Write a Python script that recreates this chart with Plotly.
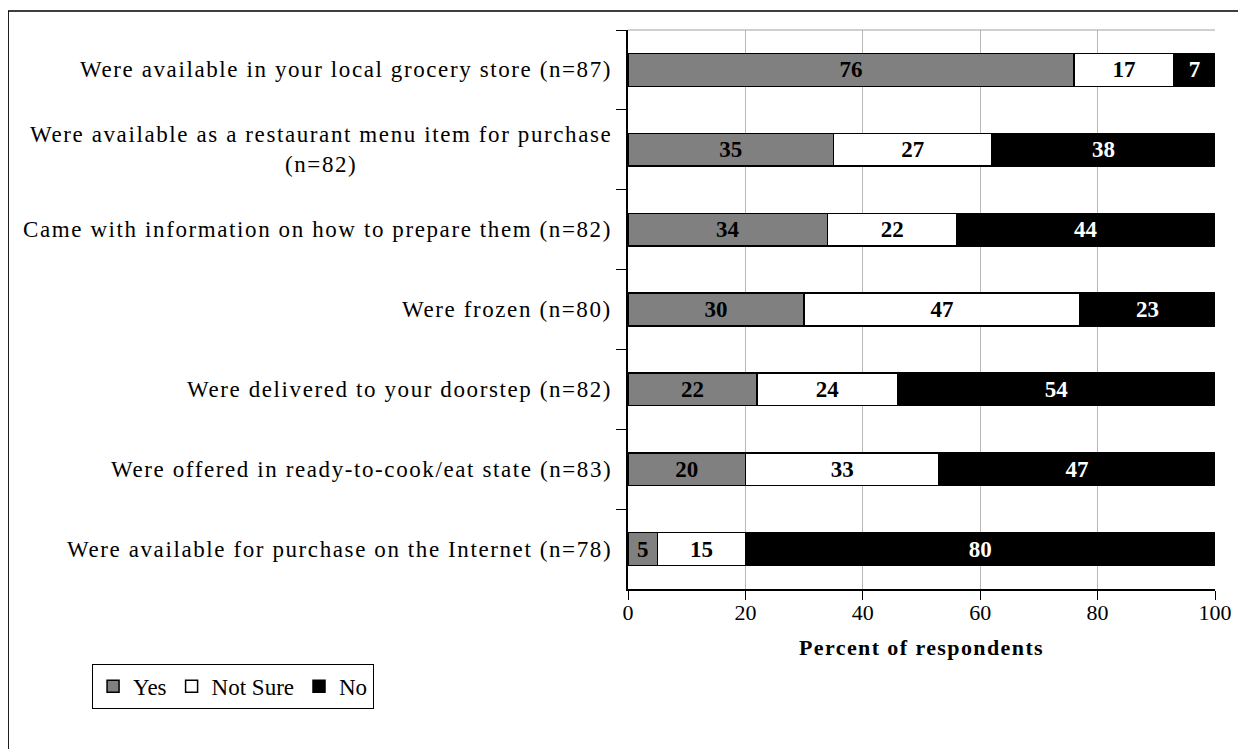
import plotly.graph_objects as go

categories = [
    "Were available in your local grocery store (n=87)",
    "Were available as a restaurant menu item for purchase<br>(n=82)",
    "Came with information on how to prepare them (n=82)",
    "Were frozen (n=80)",
    "Were delivered to your doorstep (n=82)",
    "Were offered in ready-to-cook/eat state (n=83)",
    "Were available for purchase on the Internet (n=78)",
]
yes = [76, 35, 34, 30, 22, 20, 5]
not_sure = [17, 27, 22, 47, 24, 33, 15]
no = [7, 38, 44, 23, 54, 47, 80]
x_ticks = [0, 20, 40, 60, 80, 100]

FONT = "Liberation Serif"
series = [
    ("Yes", yes, "#808080", "black"),
    ("Not Sure", not_sure, "white", "black"),
    ("No", no, "black", "white"),
]

fig = go.Figure()
for name, vals, fill, tcol in series:
    fig.add_trace(go.Bar(
        y=categories, x=vals, name=name, orientation="h",
        marker=dict(color=fill, line=dict(color="black", width=1.5)),
        text=vals, textposition="inside", insidetextanchor="middle",
        textfont=dict(family=FONT, size=23, color=tcol, weight="bold"),
        constraintext="none",
        width=0.41,
    ))

for c in categories:
    spaced = "<br>".join(
        '<span style="letter-spacing:1.6px">%s</span>' % part for part in c.split("<br>")
    )
    fig.add_annotation(
        x=0, xref="paper", y=c, yref="y", xanchor="right", xshift=-14,
        text=spaced, showarrow=False, align="center",
        font=dict(family=FONT, size=23, color="black"),
    )

fig.add_annotation(
    x=0.5, xref="paper", y=-0.105, yref="paper", yanchor="middle",
    text='<span style="letter-spacing:1.4px"><b>Percent of respondents</b></span>',
    showarrow=False,
    font=dict(family=FONT, size=22, color="black"),
)

# outer frame
fig.add_shape(type="rect", xref="paper", yref="paper",
              x0=-1.056, x1=1.2, y0=-0.4, y1=1.034,
              line=dict(color="black", width=1.5), layer="below")
# top border of plot area
fig.add_shape(type="line", xref="paper", yref="paper",
              x0=0, x1=1, y0=1, y1=1,
              line=dict(color="#a0a0a0", width=1))

fig.update_layout(
    width=1238, height=741,
    margin=dict(l=620, r=31, t=22, b=160),
    barmode="stack",
    plot_bgcolor="white", paper_bgcolor="white",
    font=dict(family=FONT, size=21, color="black"),
    showlegend=True,
    legend=dict(
        orientation="h", x=-0.913, y=-0.134, xanchor="left", yanchor="top",
        bordercolor="black", borderwidth=1, font=dict(family=FONT, size=23),
        itemwidth=30, traceorder="normal",
    ),
)
fig.update_xaxes(
    range=[0, 100], tickvals=x_ticks, ticks="outside", ticklen=9,
    tickcolor="black", showline=True, linecolor="black", linewidth=1.5,
    showgrid=True, gridcolor="#b8b8b8", gridwidth=1, zeroline=False,
    tickfont=dict(family=FONT, size=22), ticklabelstandoff=-6,
)
fig.update_yaxes(
    autorange="reversed", showticklabels=False, ticks="outside", ticklen=10,
    tickson="boundaries", tickcolor="black", showline=True, linecolor="black",
    linewidth=1.5, showgrid=False,
)

fig.write_html("out.html")
